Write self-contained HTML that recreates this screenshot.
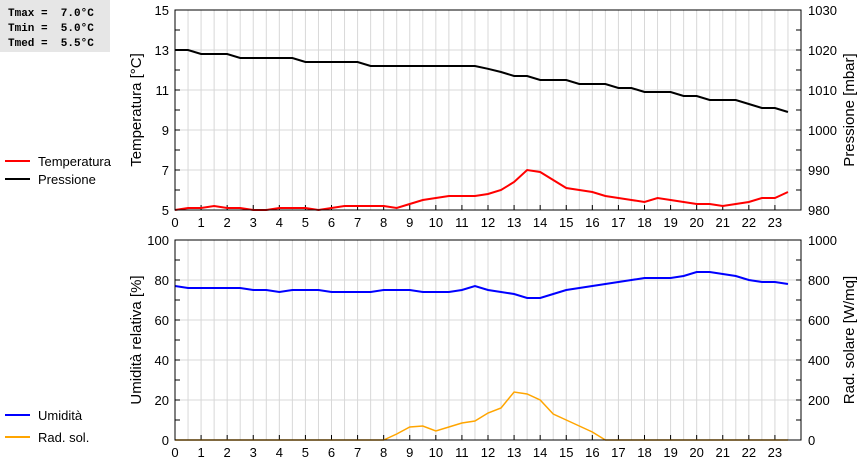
<!DOCTYPE html>
<html><head><meta charset="utf-8"><style>
body{margin:0;background:#fff;width:860px;height:460px;overflow:hidden;font-family:"Liberation Sans",sans-serif}
svg text{font-family:"Liberation Sans",sans-serif}
</style></head><body>
<svg id="c" width="860" height="460" xmlns="http://www.w3.org/2000/svg">
<rect x="0" y="0" width="110" height="52" fill="#e6e6e6"/>
<g font-family="Liberation Mono" font-size="11" font-weight="bold">
<text x="8" y="16" style="font-family:'Liberation Mono',monospace" xml:space="preserve">Tmax =  7.0°C</text>
<text x="8" y="31" style="font-family:'Liberation Mono',monospace" xml:space="preserve">Tmin =  5.0°C</text>
<text x="8" y="46" style="font-family:'Liberation Mono',monospace" xml:space="preserve">Tmed =  5.5°C</text>
</g>
<g font-size="13">
<line x1="5" y1="161" x2="30" y2="161" stroke="#f00" stroke-width="2"/><text x="38" y="166">Temperatura</text>
<line x1="5" y1="179" x2="30" y2="179" stroke="#000" stroke-width="2"/><text x="38" y="184">Pressione</text>
<line x1="5" y1="415" x2="30" y2="415" stroke="#00f" stroke-width="2"/><text x="38" y="420">Umidità</text>
<line x1="5" y1="437" x2="30" y2="437" stroke="#ffa500" stroke-width="2"/><text x="38" y="442">Rad. sol.</text>
</g>
</svg>
<script>
const hours=[0,0.5,1,1.5,2,2.5,3,3.5,4,4.5,5,5.5,6,6.5,7,7.5,8,8.5,9,9.5,10,10.5,11,11.5,12,12.5,13,13.5,14,14.5,15,15.5,16,16.5,17,17.5,18,18.5,19,19.5,20,20.5,21,21.5,22,22.5,23,23.5];
const temperature=[5.0,5.1,5.1,5.2,5.1,5.1,5.0,5.0,5.1,5.1,5.1,5.0,5.1,5.2,5.2,5.2,5.2,5.1,5.3,5.5,5.6,5.7,5.7,5.7,5.8,6.0,6.4,7.0,6.9,6.5,6.1,6.0,5.9,5.7,5.6,5.5,5.4,5.6,5.5,5.4,5.3,5.3,5.2,5.3,5.4,5.6,5.6,5.9];
const pressure=[1020,1020,1019,1019,1019,1018,1018,1018,1018,1018,1017,1017,1017,1017,1017,1016,1016,1016,1016,1016,1016,1016,1016,1016,1015.3,1014.5,1013.5,1013.5,1012.5,1012.5,1012.5,1011.5,1011.5,1011.5,1010.5,1010.5,1009.5,1009.5,1009.5,1008.5,1008.5,1007.5,1007.5,1007.5,1006.5,1005.5,1005.5,1004.5];
const humidity=[77,76,76,76,76,76,75,75,74,75,75,75,74,74,74,74,75,75,75,74,74,74,75,77,75,74,73,71,71,73,75,76,77,78,79,80,81,81,81,82,84,84,83,82,80,79,79,78];
const radiation=[0,0,0,0,0,0,0,0,0,0,0,0,0,0,0,0,0,30,65,70,45,65,85,95,135,160,240,230,200,130,100,70,40,0,0,0,0,0,0,0,0,0,0,0,0,0,0,0];
const xTicks=[0,1,2,3,4,5,6,7,8,9,10,11,12,13,14,15,16,17,18,19,20,21,22,23];
const tTicks=[5,7,9,11,13,15];
const pTicks=[980,990,1000,1010,1020,1030];
const hTicks=[0,20,40,60,80,100];
const rTicks=[0,200,400,600,800,1000];
const svg=document.getElementById('c');const NS='http://www.w3.org/2000/svg';
function mk(t,a,p){const e=document.createElementNS(NS,t);for(const k in a)e.setAttribute(k,a[k]);(p||svg).appendChild(e);return e;}
const X0=175,X1=801;const xs=h=>X0+h*(X1-X0)/24;
function panel(name,top,bot,lMin,lMax,rMin,rMax,lT,rT,lTitle,rTitle,series){
 const g=mk('g',{});
 
 
 const yl=v=>bot-(v-lMin)/(lMax-lMin)*(bot-top), yr=v=>bot-(v-rMin)/(rMax-rMin)*(bot-top);
 for(let h=0.5;h<24;h+=0.5)mk('line',{x1:xs(h),x2:xs(h),y1:top,y2:bot,stroke:'#d8d8d8'},g);
 for(let i=1;i<lT.length-1;i++)mk('line',{x1:X0,x2:X1,y1:yl(lT[i]),y2:yl(lT[i]),stroke:'#d8d8d8'},g);
 const step=(lT[1]-lT[0])/2;
 for(let v=lMin;v<=lMax+1e-9;v+=step){mk('line',{x1:X0,x2:X0+5,y1:yl(v),y2:yl(v),stroke:'#000'},g);mk('line',{x1:X1,x2:X1-5,y1:yl(v),y2:yl(v),stroke:'#000'},g);}
 for(const h of xTicks){mk('line',{x1:xs(h),x2:xs(h),y1:bot,y2:bot-5,stroke:'#000'},g);const t=mk('text',{x:xs(h),y:bot+17,'font-size':13,'text-anchor':'middle'},g);t.textContent=h;
  
  }
 lT.forEach(v=>{const t=mk('text',{x:169,y:yl(v)+5,'font-size':13,'text-anchor':'end'},g);t.textContent=v;
  
  });
 rT.forEach(v=>{const t=mk('text',{x:808,y:yr(v)+5,'font-size':13},g);t.textContent=v;
  
  });
 const cy=(top+bot)/2;
 let t=mk('text',{x:0,y:0,'font-size':15,'text-anchor':'middle',transform:`translate(141,${cy}) rotate(-90)`},g);t.textContent=lTitle;
 
 
 t=mk('text',{x:0,y:0,'font-size':15,'text-anchor':'middle',transform:`translate(854,${cy}) rotate(-90)`},g);t.textContent=rTitle;
 
 
 series.forEach(s=>{const f=s.right?yr:yl;const p=mk('polyline',{points:hours.map((h,i)=>xs(h)+','+f(s.data[i])).join(' '),fill:'none',stroke:s.color,'stroke-width':s.w},g);
  
  });
 mk('rect',{x:X0,y:top,width:X1-X0,height:bot-top,fill:'none',stroke:'#000'},g);
}
panel('temperature-pressure-panel',10,210,5,15,980,1030,tTicks,pTicks,'Temperatura [°C]','Pressione [mbar]',[{data:pressure,right:true,color:'#000',w:2,name:'pressure-line'},{data:temperature,color:'#f00',w:2,name:'temperature-line'}]);
panel('humidity-radiation-panel',240,440,0,100,0,1000,hTicks,rTicks,'Umidità relativa [%]','Rad. solare [W/mq]',[{data:radiation,right:true,color:'#ffa500',w:1.5,name:'radiation-line'},{data:humidity,color:'#00f',w:2,name:'humidity-line'}]);
</script>
</body></html>
